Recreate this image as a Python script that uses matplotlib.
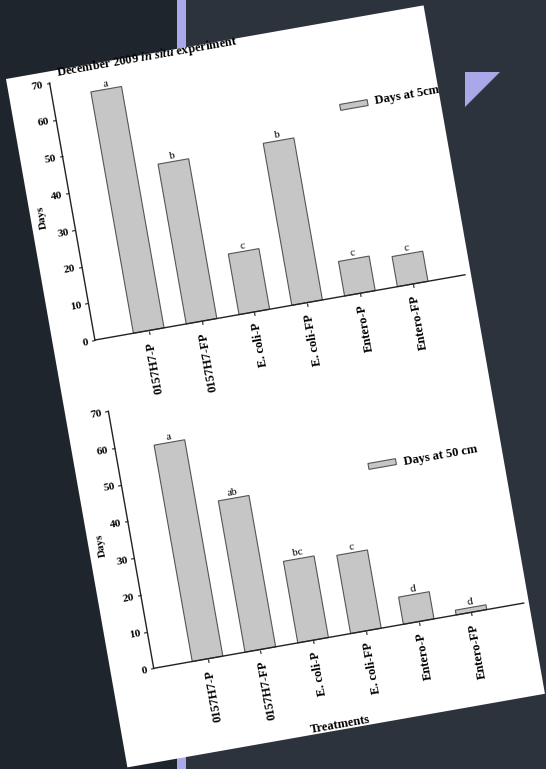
import numpy as np
import matplotlib
matplotlib.use('Agg')
import matplotlib.pyplot as plt
from matplotlib.patches import Rectangle, Polygon
from matplotlib.transforms import Affine2D
from mpl_toolkits.axisartist import floating_axes
from mpl_toolkits.axisartist.grid_finder import FixedLocator, DictFormatter

# data
categories = ['0157H7-P', '0157H7-FP', 'E. coli-P', 'E. coli-FP', 'Entero-P', 'Entero-FP']
days_5cm = [65.7, 43.5, 16.5, 44.1, 9.4, 8.2]
letters_5cm = ['a', 'b', 'c', 'b', 'c', 'c']
days_50cm = [58.9, 41.2, 22.2, 21.3, 7.4, 1.3]
letters_50cm = ['a', 'ab', 'bc', 'c', 'd', 'd']
day_ticks = [0, 10, 20, 30, 40, 50, 60, 70]

plt.rcParams['font.family'] = ['Liberation Serif', 'DejaVu Serif']
plt.rcParams['mathtext.fontset'] = 'custom'
plt.rcParams['mathtext.rm'] = 'Liberation Serif'
plt.rcParams['mathtext.bf'] = 'Liberation Serif:bold'
plt.rcParams['mathtext.it'] = 'Liberation Serif:italic:bold'

W, H = 546, 769
fig = plt.figure(figsize=(W / 100, H / 100), dpi=100)
fig.patch.set_facecolor('#2c333c')

# slide background
bg = fig.add_axes([0, 0, 1, 1])
bg.set_zorder(-1)
bg.set_xlim(0, W)
bg.set_ylim(0, H)
bg.axis('off')
bg.add_patch(Rectangle((0, 0), 177, H, color='#1f252d', lw=0))
bg.add_patch(Rectangle((177, 0), 9, H, color='#a9a9ea', lw=0))
bg.add_patch(Polygon([(465, H - 72), (500, H - 72), (465, H - 107)], color='#a9a9ea', lw=0))

# tilted paper
ang = 10.0
c, s = np.cos(np.radians(ang)), np.sin(np.radians(ang))
page_tr = Affine2D(np.array([[c, s, 6], [s, -c, H - 79], [0, 0, 1]]))
page = Rectangle((0, 0), 424, 699, facecolor='white', edgecolor='none',
                 transform=page_tr + bg.transData)
bg.add_patch(page)

sx, sy = 53.6, 3.73


def bar_chart(u0, v0, values, letters):
    tr = Affine2D().scale(sx, sy).rotate_deg(ang)
    gh = floating_axes.GridHelperCurveLinear(
        tr, extremes=(-1.02, 5.99, 0, 70),
        grid_locator1=FixedLocator(list(range(len(categories)))),
        tick_formatter1=DictFormatter(dict(enumerate(categories))),
        grid_locator2=FixedLocator(day_ticks))
    ax = fig.add_axes([0, 0, 1, 1], axes_class=floating_axes.FloatingAxes, grid_helper=gh)
    x0, x1 = ax.get_xlim()
    y0, y1 = ax.get_ylim()
    ox, oy = page_tr.transform((u0, v0))
    ax.set_position([(ox + x0) / W, (oy + y0) / H, (x1 - x0) / W, (y1 - y0) / H])

    ax.axis['top'].set_visible(False)
    ax.axis['right'].set_visible(False)
    for side in ['left', 'bottom']:
        a = ax.axis[side]
        a.line.set_color('#222222')
        a.line.set_linewidth(1.0)
        a.major_ticks.set_tick_out(True)
        a.major_ticks.set_ticksize(2.5)
        a.major_ticks.set_color('#222222')
        a.major_ticklabels.set_fontsize(8)
        a.major_ticklabels.set_fontweight('bold')
        a.major_ticklabels.set_pad(2)
    ax.axis['bottom'].major_ticklabels.set_fontsize(9)
    ax.axis['bottom'].major_ticklabels.set_rotation(90)
    ax.axis['bottom'].major_ticklabels.set_ha('right')
    ax.axis['bottom'].major_ticklabels.set_va('center')
    ax.axis['left'].label.set_text('Days')
    ax.axis['left'].label.set_fontsize(8)
    ax.axis['left'].label.set_fontweight('bold')

    aux = ax.get_aux_axes(tr)
    x = np.arange(len(categories))
    aux.bar(x, values, width=0.58, color='#c6c6c6', edgecolor='#555555', linewidth=0.8)
    for i, (val, let) in enumerate(zip(values, letters)):
        aux.text(i, val + 0.3, let, rotation=ang, rotation_mode='anchor',
                 ha='center', va='bottom', fontsize=8)
    return ax, aux


ax1, aux1 = bar_chart(96.9, 272.5, days_5cm, letters_5cm)
aux1.text(-0.86, 71.4, r'$\mathbf{December\ 2009}\ \mathit{in\ situ}\ \mathbf{experiment}$',
          ha='left', va='baseline', rotation=ang, rotation_mode='anchor', fontsize=9)
aux1.add_patch(Rectangle((4.24, 49.2), 0.52, 1.6, facecolor='#c6c6c6',
                         edgecolor='#555555', linewidth=0.8))
t = aux1.text(4.89, 50.0, 'Days at 5cm', ha='left', va='center', rotation=ang,
              rotation_mode='anchor', fontsize=9, fontweight='bold')
t.set_clip_path(page)

ax2, aux2 = bar_chart(97.8, 606.0, days_50cm, letters_50cm)
aux2.add_patch(Rectangle((3.58, 42.5), 0.52, 1.6, facecolor='#c6c6c6',
                         edgecolor='#555555', linewidth=0.8))
aux2.text(4.24, 42.9, 'Days at 50 cm', ha='left', va='center', rotation=ang,
          rotation_mode='anchor', fontsize=9, fontweight='bold')
aux2.text(2.22, -23.6, 'Treatments', ha='center', va='center', rotation=ang,
          rotation_mode='anchor', fontsize=9, fontweight='bold')

fig.savefig('out.png', dpi=100, facecolor=fig.get_facecolor())
